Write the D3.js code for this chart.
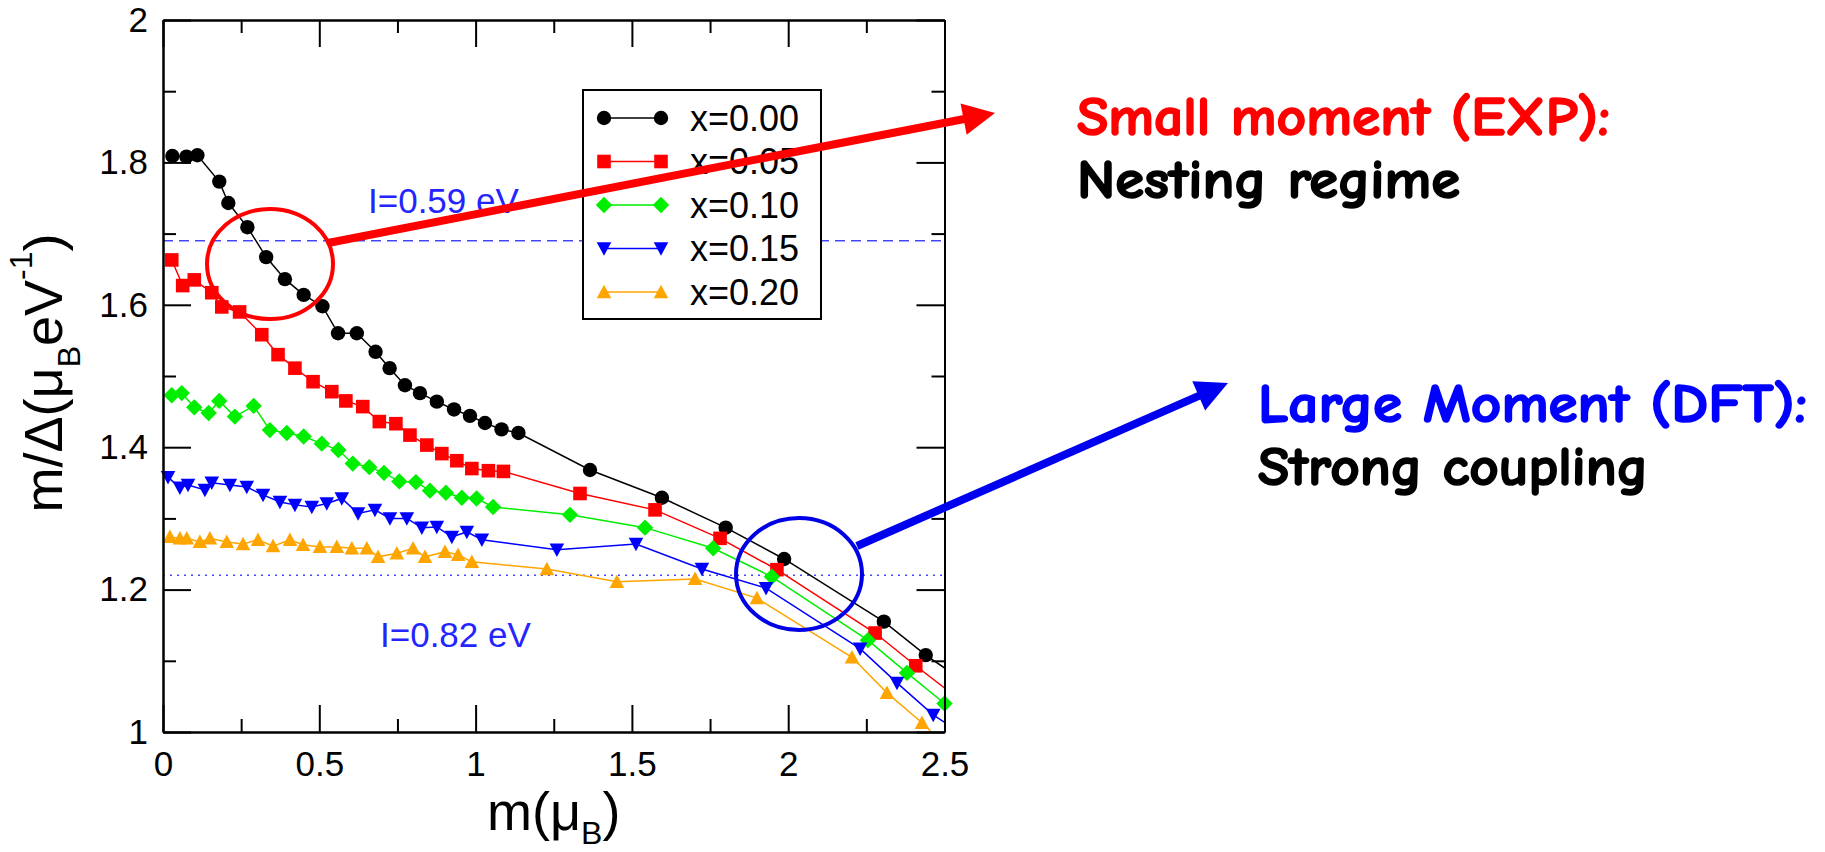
<!DOCTYPE html>
<html><head><meta charset="utf-8">
<script src="https://cdn.jsdelivr.net/npm/d3@7"></script>
<style>body{margin:0;background:#fff;} svg{display:block;}</style>
</head><body><svg id="c" width="1825" height="852"></svg>
<script>
// ---------- data ----------
const xTicks = [0, 0.5, 1, 1.5, 2, 2.5];
const xTickLabels = ["0", "0.5", "1", "1.5", "2", "2.5"];
const xMinor = [0.25, 0.75, 1.25, 1.75, 2.25];
const yTicks = [1, 1.2, 1.4, 1.6, 1.8, 2];
const yTickLabels = ["1", "1.2", "1.4", "1.6", "1.8", "2"];
const yMinor = [1.1, 1.3, 1.5, 1.7, 1.9];
const seriesNames = ["x=0.00", "x=0.05", "x=0.10", "x=0.15", "x=0.20"];

const m000 = [0.03,0.075,0.11,0.18,0.209,0.27,0.33,0.39,0.45,0.51,0.56,0.62,0.68,0.725,0.774,0.822,0.876,0.931,0.982,1.03,1.083,1.137,1.366,1.596,1.80,1.987,2.306,2.44,2.6];
const r000 = [1.809,1.808,1.81,1.773,1.743,1.709,1.667,1.636,1.614,1.598,1.560,1.560,1.534,1.511,1.487,1.476,1.464,1.453,1.444,1.434,1.425,1.42,1.368,1.329,1.287,1.243,1.155,1.108,1.06];

const m005 = [0.028,0.063,0.10,0.156,0.188,0.245,0.316,0.368,0.422,0.48,0.54,0.585,0.639,0.692,0.745,0.79,0.844,0.892,0.94,0.988,1.041,1.089,1.334,1.574,1.782,1.964,2.278,2.408,2.6];
const r005 = [1.663,1.627,1.635,1.617,1.597,1.590,1.558,1.530,1.511,1.492,1.478,1.465,1.457,1.436,1.433,1.417,1.403,1.391,1.381,1.370,1.367,1.366,1.335,1.312,1.272,1.228,1.139,1.093,1.028];

const m010 = [0.028,0.06,0.10,0.146,0.18,0.23,0.29,0.342,0.396,0.45,0.508,0.561,0.607,0.66,0.707,0.756,0.809,0.854,0.905,0.956,1.003,1.056,1.302,1.542,1.76,1.948,2.255,2.38,2.5];
const r010 = [1.473,1.476,1.456,1.448,1.465,1.443,1.458,1.424,1.42,1.415,1.405,1.396,1.377,1.372,1.364,1.352,1.351,1.339,1.336,1.329,1.328,1.316,1.305,1.287,1.258,1.218,1.129,1.083,1.04];

const m015 = [0.016,0.054,0.08,0.134,0.156,0.214,0.268,0.32,0.374,0.422,0.476,0.524,0.572,0.624,0.678,0.726,0.78,0.828,0.876,0.924,0.972,1.02,1.26,1.513,1.724,1.929,2.23,2.348,2.464,2.6];
const r015 = [1.358,1.343,1.347,1.34,1.35,1.347,1.344,1.333,1.323,1.319,1.316,1.321,1.328,1.307,1.312,1.30,1.30,1.287,1.288,1.274,1.281,1.27,1.256,1.264,1.229,1.202,1.117,1.069,1.024,0.985];

const m020 = [0.022,0.054,0.076,0.118,0.15,0.204,0.256,0.304,0.352,0.406,0.448,0.502,0.556,0.604,0.652,0.688,0.748,0.80,0.838,0.902,0.944,0.988,1.228,1.452,1.702,1.90,2.204,2.316,2.428,2.55];
const r020 = [1.274,1.272,1.272,1.267,1.272,1.267,1.264,1.27,1.261,1.27,1.263,1.26,1.26,1.258,1.258,1.246,1.251,1.258,1.246,1.253,1.249,1.239,1.229,1.211,1.215,1.188,1.105,1.055,1.013,0.96];

const refLevels = [1.69, 1.22];
const refLabels = ["I=0.59 eV", "I=0.82 eV"];
const noteTitles = ["Small moment (EXP):", "Large Moment (DFT):"];
const noteLines = ["Nesting regime", "Strong coupling"];

// ---------- styles ----------
const colors = ["#000000", "#ff0000", "#00ee00", "#0000ff", "#ffa500"];
const shapes = ["circle", "square", "diamond", "down", "up"];
const series = [[m000,r000],[m005,r005],[m010,r010],[m015,r015],[m020,r020]]
  .map((s,i)=>({name: seriesNames[i], color: colors[i], shape: shapes[i],
                pts: s[0].map((m,j)=>[m, s[1][j]])}));

const svg = d3.select("#c");
const L = 163, R = 944.5, T = 20, B = 732;
const x = d3.scaleLinear().domain([0, 2.5]).range([L, R]);
const y = d3.scaleLinear().domain([1, 2]).range([B, T]);
const AX = "'Liberation Sans', Arial, Helvetica, sans-serif";
const COMIC = "'Comic Sans MS', 'Comic Neue', Lato, 'Open Sans', sans-serif";

function markerPath(shape) {
  switch (shape) {
    case "circle": return d3.symbol(d3.symbolCircle, Math.PI*7.2*7.2)();
    case "square": return "M-6.8,-6.8H6.8V6.8H-6.8Z";
    case "diamond": return "M0,-8.2L8.2,0L0,8.2L-8.2,0Z";
    case "down": return "M-7.3,-6.2L7.3,-6.2L0,7.3Z";
    case "up": return "M-7.3,6.2L7.3,6.2L0,-7.3Z";
  }
}

svg.append("defs").append("clipPath").attr("id","pc")
  .append("rect").attr("x",L).attr("y",T).attr("width",R-L).attr("height",B-T);

// reference lines
svg.append("line").attr("x1",L).attr("x2",R).attr("y1",y(refLevels[0])).attr("y2",y(refLevels[0]))
  .attr("stroke","#4646ff").attr("stroke-width",1.5).attr("stroke-dasharray","10,6");
svg.append("line").attr("x1",L).attr("x2",R).attr("y1",y(refLevels[1])).attr("y2",y(refLevels[1]))
  .attr("stroke","#4646ff").attr("stroke-width",1.5).attr("stroke-dasharray","2,5");
svg.append("text").attr("x",368).attr("y",213).text(refLabels[0])
  .attr("font-family",AX).attr("font-size",35).attr("fill","#2424ff");
svg.append("text").attr("x",380).attr("y",647).text(refLabels[1])
  .attr("font-family",AX).attr("font-size",35).attr("fill","#2424ff");

// series lines + markers
const line = d3.line().x(d=>x(d[0])).y(d=>y(d[1]));
series.forEach(s=>{
  svg.append("path").attr("d", line(s.pts)).attr("fill","none")
    .attr("stroke", s.color).attr("stroke-width",1.5).attr("clip-path","url(#pc)");
});
series.forEach(s=>{
  svg.append("g").selectAll("path").data(s.pts.filter(d=>d[0]<=2.5 && d[1]>=1)).join("path")
    .attr("transform", d=>`translate(${x(d[0])},${y(d[1])})`)
    .attr("d", markerPath(s.shape)).attr("fill", s.color);
});

// axes (ticks inside)
function styleAxis(g){ g.selectAll("line").attr("stroke","#000").attr("stroke-width",2);
  g.select(".domain").attr("stroke","#000").attr("stroke-width",2);
  g.selectAll("text").attr("font-family",AX).attr("font-size",35).attr("fill","#000"); }
svg.append("g").attr("transform",`translate(0,${B})`)
  .call(d3.axisBottom(x).tickValues(xTicks).tickFormat((d,i)=>xTickLabels[i]).tickSize(-27).tickPadding(19).tickSizeOuter(0)).call(styleAxis);
svg.append("g").attr("transform",`translate(0,${B})`)
  .call(d3.axisBottom(x).tickValues(xMinor).tickFormat("").tickSize(-13).tickSizeOuter(0)).call(styleAxis);
svg.append("g").attr("transform",`translate(0,${T})`)
  .call(d3.axisTop(x).tickValues(xTicks).tickFormat("").tickSize(-27).tickSizeOuter(0)).call(styleAxis);
svg.append("g").attr("transform",`translate(0,${T})`)
  .call(d3.axisTop(x).tickValues(xMinor).tickFormat("").tickSize(-13).tickSizeOuter(0)).call(styleAxis);
svg.append("g").attr("transform",`translate(${L},0)`)
  .call(d3.axisLeft(y).tickValues(yTicks).tickFormat((d,i)=>yTickLabels[i]).tickSize(-28).tickPadding(15).tickSizeOuter(0)).call(styleAxis);
svg.append("g").attr("transform",`translate(${L},0)`)
  .call(d3.axisLeft(y).tickValues(yMinor).tickFormat("").tickSize(-13).tickSizeOuter(0)).call(styleAxis);
svg.append("g").attr("transform",`translate(${R},0)`)
  .call(d3.axisRight(y).tickValues(yTicks).tickFormat("").tickSize(-28).tickSizeOuter(0)).call(styleAxis);
svg.append("g").attr("transform",`translate(${R},0)`)
  .call(d3.axisRight(y).tickValues(yMinor).tickFormat("").tickSize(-13).tickSizeOuter(0)).call(styleAxis);

// axis titles
const xt = svg.append("text").attr("x",487).attr("y",830).attr("font-family",AX).attr("font-size",54).attr("fill","#000");
xt.append("tspan").text("m(\u03bc");
xt.append("tspan").text("B").attr("font-size",32).attr("dy",14);
xt.append("tspan").text(")").attr("dy",-14);

const yt = svg.append("text").attr("transform","translate(62,373) rotate(-90)")
  .attr("text-anchor","middle").attr("font-family",AX).attr("font-size",54).attr("fill","#000");
yt.append("tspan").text("m/\u0394(\u03bc");
yt.append("tspan").text("B").attr("font-size",32).attr("dy",18);
yt.append("tspan").text("eV").attr("dy",-18);
yt.append("tspan").text("-1").attr("font-size",32).attr("dy",-30);
yt.append("tspan").text(")").attr("dy",30);

// legend
const lg = svg.append("g");
lg.append("rect").attr("x",583).attr("y",90).attr("width",238).attr("height",229)
  .attr("fill","#fff").attr("stroke","#000").attr("stroke-width",2);
series.forEach((s,i)=>{
  const yy = 118 + i*43.5;
  lg.append("line").attr("x1",604).attr("x2",661).attr("y1",yy).attr("y2",yy).attr("stroke",s.color).attr("stroke-width",1.5);
  [604,661].forEach(xx=>lg.append("path").attr("transform",`translate(${xx},${yy})`).attr("d",markerPath(s.shape)).attr("fill",s.color));
  lg.append("text").attr("x",690).attr("y",yy).attr("dy","0.36em").text(s.name)
    .attr("font-family",AX).attr("font-size",36).attr("fill","#000");
});

// annotations
function arrow(x1,y1,x2,y2,color){
  const dx=x2-x1, dy=y2-y1, len=Math.hypot(dx,dy), ux=dx/len, uy=dy/len;
  const hl=32, hw=16;
  const bx=x2-ux*hl, by=y2-uy*hl;
  svg.append("line").attr("x1",x1).attr("y1",y1).attr("x2",bx+ux*2).attr("y2",by+uy*2)
    .attr("stroke",color).attr("stroke-width",8);
  svg.append("path").attr("d",`M${x2},${y2}L${bx-uy*hw},${by+ux*hw}L${bx+uy*hw},${by-ux*hw}Z`).attr("fill",color);
}
svg.append("ellipse").attr("cx",270).attr("cy",264).attr("rx",63).attr("ry",55)
  .attr("fill","none").attr("stroke","#ff0000").attr("stroke-width",4);
arrow(328,243,995,113,"#ff0000");
svg.append("ellipse").attr("cx",799).attr("cy",574).attr("rx",63).attr("ry",56)
  .attr("fill","none").attr("stroke","#0000e6").attr("stroke-width",4);
arrow(857,546,1228,383,"#0000f0");

function note(xx,yy,txt,w,color){
  svg.append("text").attr("x",xx).attr("y",yy).text(txt).attr("font-family",COMIC)
    .attr("font-weight","bold").attr("font-size",54).attr("fill",color)
    .attr("stroke",color).attr("stroke-width",1.6).attr("stroke-linejoin","round")
    .attr("textLength",w).attr("lengthAdjust","spacingAndGlyphs");
}
note(1077,135,noteTitles[0],533,"#ff0000");
note(1077,198,noteLines[0],383,"#000");
note(1258,422,noteTitles[1],549,"#0000ff");
note(1258,485,noteLines[1],390,"#000");
</script></body></html>
